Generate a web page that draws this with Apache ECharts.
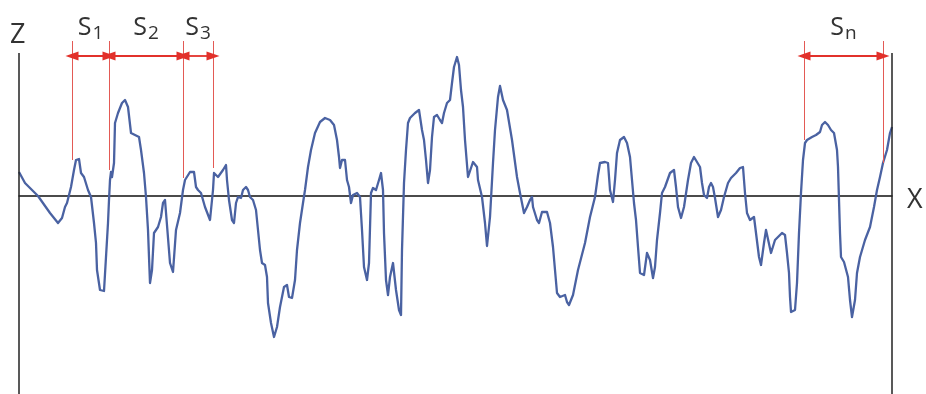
<!DOCTYPE html>
<html><head><meta charset="utf-8">
<script src="https://cdn.jsdelivr.net/npm/echarts@6/dist/echarts.min.js"></script>
<style>html,body{margin:0;padding:0;background:#fff}#c{width:926px;height:394px}</style>
</head><body><div id="c"></div>
<script>
// profile: position along X and height Z
const positions = [0,6,16,19,31,39,43,46,48,52,55,57,60,62,65,69,72,75,77,78,81,85,87,89,90,91,92,93,95,96,99,103,106,109,112,116,120,122,125,127,129,130,131,133,135,139,142,144,146,151,154,157,161,164,166,171,175,177,179,182,186,191,194,195,197,199,201,204,207,208,210,213,215,217,219,222,224,227,229,231,234,237,239,241,243,246,248,249,252,255,258,261,265,268,270,273,276,278,281,284,286,289,292,296,301,306,311,315,318,320,321,323,326,328,330,332,334,338,341,343,345,348,350,352,354,357,360,362,364,365,367,369,371,374,377,380,382,383,385,387,389,391,396,400,403,405,407,409,411,413,415,418,421,423,425,428,431,433,435,438,440,442,444,446,449,451,454,458,459,463,466,468,471,474,476,479,481,484,488,489,493,498,501,505,508,511,513,514,518,520,523,528,531,534,536,538,541,546,548,550,554,559,566,571,576,579,581,586,589,591,594,596,598,601,605,608,611,613,615,617,619,621,625,628,631,634,636,638,641,643,646,651,655,657,659,662,665,669,672,675,678,681,683,685,688,690,692,694,696,699,702,705,709,712,717,721,724,726,728,731,735,737,740,742,745,747,749,752,754,756,759,763,766,768,770,771,772,776,778,780,782,784,786,788,793,797,801,803,806,809,812,815,818,819,820,821,822,825,827,829,831,833,836,838,841,846,851,855,858,861,864,868,871,873];
const heights = [24,13,3,0,-17,-27,-22,-11,-7,9,26,36,37,23,19,6,-1,-27,-47,-74,-94,-95,-61,-27,-4,16,24,19,33,73,83,93,96,89,63,61,59,46,23,-1,-34,-61,-87,-74,-37,-31,-21,-7,-4,-67,-76,-34,-17,6,16,24,24,9,6,3,-11,-24,6,23,24,19,21,26,31,16,-4,-24,-27,-7,-1,-2,6,9,6,-1,-4,-14,-34,-54,-67,-69,-81,-107,-127,-141,-131,-111,-91,-89,-101,-102,-84,-54,-27,-7,6,29,46,63,74,78,76,71,56,39,28,36,36,16,9,-7,1,3,-1,-34,-71,-84,-67,3,8,6,16,23,6,-37,-84,-99,-81,-67,-94,-114,-119,-54,13,46,73,78,83,86,66,56,36,13,26,59,79,81,76,73,83,93,96,113,129,139,131,106,89,56,19,19,34,29,16,-1,-27,-50,-21,33,66,99,110,96,86,88,56,19,3,-17,-11,-4,-1,-11,-24,-27,-16,-16,-27,-51,-74,-97,-101,-99,-106,-109,-99,-74,-47,-21,-1,21,33,34,33,6,-6,16,43,56,59,53,39,16,-7,-24,-51,-77,-79,-57,-64,-82,-71,-44,-17,3,9,23,26,9,-11,-22,-11,16,33,39,34,29,13,1,-2,9,13,9,-2,-21,-14,-1,13,18,23,28,29,3,-17,-24,-21,-37,-61,-69,-47,-34,-36,-57,-57,-44,-41,-37,-39,-57,-77,-101,-116,-114,-87,-37,3,36,53,56,59,61,64,71,74,71,66,63,46,29,-4,-37,-61,-66,-64,-81,-104,-121,-104,-77,-61,-44,-31,-11,6,19,33,46,63,69];

// spacing dimensions S1, S2, S3 ... Sn
const spacingNames = ['1', '2', '3', 'n'];
const spacingStart = [53, 90, 164, 785];
const spacingEnd = [90, 164, 194, 864];
const arrowLevel = 140;
// extension lines of the dimensions
const markerX = [53, 90, 164, 194, 785, 864];
const markerFoot = [36, 26, 18, 28, 56, 33];
const markerTop = 155;
// frame
const xRange = [0, 873];
const zRange = [-198, 196];
const frameTop = 143;

const FONT = 'Open Sans';
const profile = positions.map((x, i) => [x, heights[i]]);

const chart = echarts.init(document.getElementById('c'));
chart.setOption({
  animation: false,
  grid: { left: 19, right: 34, top: 0, bottom: 0 },
  xAxis: {
    type: 'value', min: xRange[0], max: xRange[1],
    axisLine: { show: true, onZero: true, lineStyle: { color: '#111', width: 1.5 } },
    axisTick: { show: false }, axisLabel: { show: false }, splitLine: { show: false }
  },
  yAxis: {
    type: 'value', min: zRange[0], max: zRange[1],
    axisLine: { show: false }, axisTick: { show: false }, axisLabel: { show: false }, splitLine: { show: false }
  },
  series: [
    {
      type: 'line', data: profile, showSymbol: false, clip: false, z: 3,
      lineStyle: { color: '#4a62a2', width: 2.3, join: 'round' }
    },
    {
      type: 'line', data: [], z: 2,
      markLine: {
        silent: true, symbol: ['none', 'none'], animation: false,
        lineStyle: { color: '#222', width: 1.5, type: 'solid' },
        label: { show: false },
        data: [
          [{ coord: [xRange[0], frameTop] }, { coord: [xRange[0], zRange[0]] }],
          [{ coord: [xRange[1], frameTop] }, { coord: [xRange[1], zRange[0]] }]
        ]
      }
    },
    {
      type: 'line', data: [], z: 2,
      markLine: {
        silent: true, symbol: ['none', 'none'], animation: false,
        lineStyle: { color: '#e35a55', width: 1, type: 'solid' },
        label: { show: false },
        data: markerX.map((x, i) => [{ coord: [x, markerTop] }, { coord: [x, markerFoot[i]] }])
      }
    },
    {
      type: 'line', data: [], z: 4,
      markLine: {
        silent: true, symbol: ['triangle', 'triangle'], symbolSize: [9, 13], animation: false,
        lineStyle: { color: '#e2312b', width: 1.8, type: 'solid' },
        itemStyle: { color: '#e2312b' },
        label: {
          show: true, position: 'middle', distance: 13,
          rich: {
            s: { fontSize: 25, color: '#333', fontFamily: FONT },
            i: { fontSize: 19, color: '#333', fontFamily: FONT, padding: [12, 0, 0, 1] }
          }
        },
        data: spacingNames.map((n, i) => [
          { coord: [spacingStart[i], arrowLevel], label: { formatter: '{s|S}{i|' + n + '}' } },
          { coord: [spacingEnd[i], arrowLevel] }
        ])
      }
    }
  ],
  graphic: [
    { type: 'text', left: 10, top: 22, style: { text: 'Z', fontSize: 27, fontFamily: FONT, fill: '#333' } },
    { type: 'text', left: 907, top: 187, style: { text: 'X', fontSize: 27, fontFamily: FONT, fill: '#333' } }
  ]
});
</script>
</body></html>
